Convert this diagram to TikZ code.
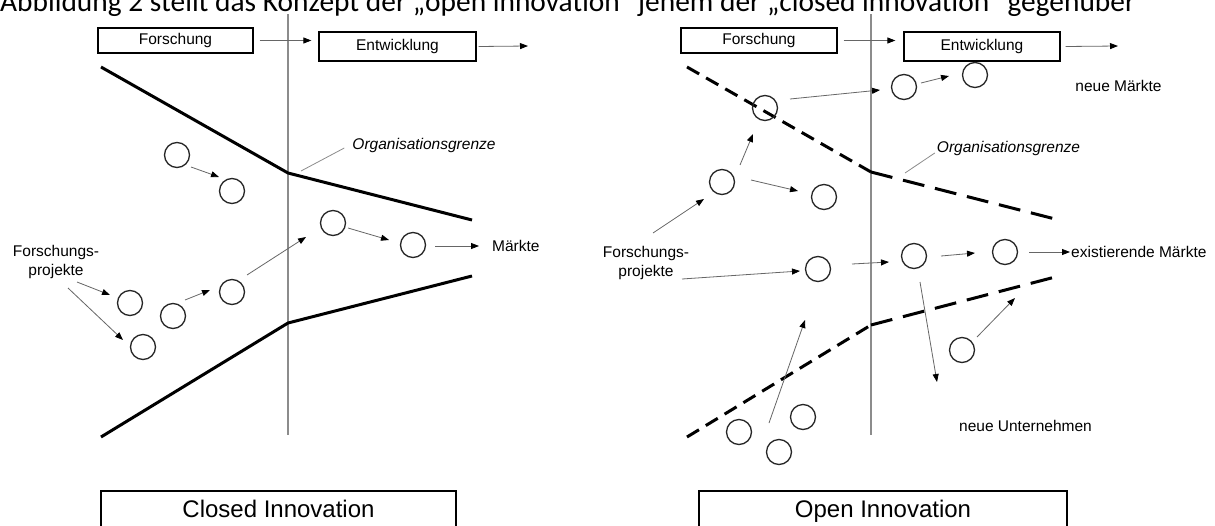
\documentclass[tikz,border=0pt]{standalone}
\usepackage{fontspec}
\setmainfont{Liberation Sans}
\newfontfamily\capfont{Carlito}
\usetikzlibrary{arrows.meta}
\tikzset{
  bub/.style={circle, draw=black!85, line width=1.3pt, minimum size=25pt, inner sep=0pt, outer sep=0pt},
  arr/.style={draw=black!60, line width=0.8pt, -{Triangle[length=8pt,width=6pt,color=black,fill=black]}},
  lead/.style={draw=black!45, line width=0.8pt},
  bound/.style={draw=black, line width=3pt},
  dashA/.style={bound, dash pattern=on 14pt off 8pt},
  dashB/.style={bound, dash pattern=on 22pt off 11pt},
  orgline/.style={draw=black!45, line width=1.2pt},
  lbl/.style={inner sep=0pt, font=\fontsize{15.5}{19}\selectfont},
  hbox/.style={draw=black, line width=1.3pt, inner sep=0pt, text height=11.5pt, text depth=3.5pt, font=\fontsize{15.5}{19}\selectfont},
  bigbox/.style={draw=black, line width=1.3pt, inner sep=0pt, text height=17pt, text depth=5pt, font=\fontsize{24}{28}\selectfont},
}
\begin{document}
\begin{tikzpicture}[x=1pt,y=-1pt]
\clip (0,0) rectangle (1215,525);
\fill[white] (0,0) rectangle (1215,525);
% caption (cut at top)
\node[anchor=base west, inner sep=0pt, font=\capfont\fontsize{29.4}{30}\selectfont] (cap) at (0,11) {Abbildung 2 stellt das Konzept der „open innovation“ jenem der „closed innovation“ gegenüber};
% vertical organisation lines
\draw[orgline] (288,14) -- (288,435);
\draw[orgline] (871,14) -- (871,435);
% top boxes
\node[hbox, minimum width=155pt, minimum height=25pt] (fL) at (175.5,40.5) {Forschung};
\node[hbox, minimum width=157pt, minimum height=29pt] (eL) at (397.5,46.5) {Entwicklung};
\node[hbox, minimum width=156pt, minimum height=25pt] (fR) at (759,40.5) {Forschung};
\node[hbox, minimum width=156pt, minimum height=29pt] (eR) at (982,46.5) {Entwicklung};
\coordinate (eLout) at (528,46);
\coordinate (eRout) at (1118,46);
\draw[arr] ([shift={(6,0)}]fL.east) -- ([shift={(-7,-6)}]eL.west);
\draw[arr] ([shift={(2,0)}]eL.east) -- (eLout);
\draw[arr] ([shift={(6,0)}]fR.east) -- ([shift={(-8,-6)}]eR.west);
\draw[arr] ([shift={(5,0)}]eR.east) -- (eRout);
% bottom boxes
\node[bigbox, minimum width=355pt, minimum height=40pt] (cbox) at (278.5,511) {Closed Innovation};
\node[bigbox, minimum width=368pt, minimum height=40pt] (obox) at (883,511) {Open Innovation};

% ---------- Closed innovation ----------
\draw[bound] (101,67) -- (288,173) -- (472,220);
\draw[bound] (101,437) -- (288,323) -- (472,276);
\node[lbl, font=\itshape\fontsize{15.5}{19}\selectfont] (ogL) at (424,145) {Organisationsgrenze};
\coordinate (ogLend) at (301,171);
\draw[lead] ([shift={(-8,3)}]ogL.west) -- (ogLend);

\node[bub] (a) at (177,155) {};
\node[bub] (b) at (232,191) {};
\node[bub] (c) at (333,223) {};
\node[bub] (d) at (413,245) {};
\node[bub] (e) at (130,303) {};
\node[bub] (f) at (143,347) {};
\node[bub] (g) at (173,316) {};
\node[bub] (h) at (232,292) {};
\node[lbl, anchor=west] (mk) at (492,246) {Märkte};
\node[lbl, align=center] (fpL) at (56,262) {Forschungs-\\projekte};

\draw[arr] ([shift={(14,12)}]a.center) -- ([shift={(-13,-14)}]b.center);
\draw[arr] ([shift={(15,5)}]c.center) -- ([shift={(-24,-5)}]d.center);
\draw[arr] ([shift={(22,1)}]d.center) -- ([shift={(-13,0)}]mk.west);
\draw[arr] ([shift={(15,-17)}]h.center) -- ([shift={(-27,14)}]c.center);
\draw[arr] ([shift={(12,-16)}]g.center) -- ([shift={(-22,-2)}]h.center);
\draw[arr] ([shift={(21,20)}]fpL.center) -- ([shift={(-20,-8)}]e.center);
\draw[arr] ([shift={(12,26)}]fpL.center) -- ([shift={(-20,-7)}]f.center);

% ---------- Open innovation ----------
\draw[dashA] (687,67) -- (871,172);
\draw[dashB] (871,172) -- (1059,220);
\draw[dashA] (687,437) -- (871,325);
\draw[dashB] (871,325) -- (1059,276);
\node[lbl, font=\itshape\fontsize{15.5}{19}\selectfont] (ogR) at (1008.5,148) {Organisationsgrenze};
\coordinate (ogRend) at (905,173);
\draw[lead] ([shift={(-2,5)}]ogR.west) -- (ogRend);

\node[bub] (i) at (765,108) {};
\node[bub] (j) at (904,87) {};
\node[bub] (k) at (975,75) {};
\node[bub] (l) at (722,182) {};
\node[bub] (m) at (824,197) {};
\node[bub] (n) at (818,269) {};
\node[bub] (o) at (914,256) {};
\node[bub] (p) at (1005,252) {};
\node[bub] (q) at (962,350) {};
\node[bub] (r) at (739,432) {};
\node[bub] (s) at (803,417) {};
\node[bub] (t) at (779,452) {};
\node[lbl] (nm) at (1118.5,86) {neue Märkte};
\node[lbl, anchor=west] (ex) at (1071,252) {existierende Märkte};
\node[lbl] (nu) at (1025.5,426) {neue Unternehmen};
\node[lbl, align=center] (fpR) at (646,263) {Forschungs-\\projekte};

\coordinate (odown) at (937,382);
\coordinate (qup) at (1015,298);
\coordinate (spinS) at (769,423);
\coordinate (spinE) at (805,320);

\draw[arr] ([shift={(25,-9)}]i.center) -- ([shift={(-24,3)}]j.center);
\draw[arr] ([shift={(17,-4)}]j.center) -- ([shift={(-26,1)}]k.center);
\draw[arr] ([shift={(18,-17)}]l.center) -- ([shift={(-12,26)}]i.center);
\draw[arr] ([shift={(29,-2)}]l.center) -- ([shift={(-26,-6)}]m.center);
\draw[arr] ([shift={(7,-30)}]fpR.center) -- ([shift={(-18,17)}]l.center);
\draw[arr] ([shift={(36,16)}]fpR.center) -- ([shift={(-18,2)}]n.center);
\draw[arr] ([shift={(34,-5)}]n.center) -- ([shift={(-25,6)}]o.center);
\draw[arr] ([shift={(27,0)}]o.center) -- ([shift={(-30,1)}]p.center);
\draw[arr] ([shift={(24,0)}]p.center) -- ([shift={(-1,0)}]ex.west);
\draw[arr] ([shift={(6,26)}]o.center) -- (odown);
\draw[arr] ([shift={(15,-13)}]q.center) -- (qup);
\draw[arr] (spinS) -- (spinE);
\end{tikzpicture}
\end{document}
